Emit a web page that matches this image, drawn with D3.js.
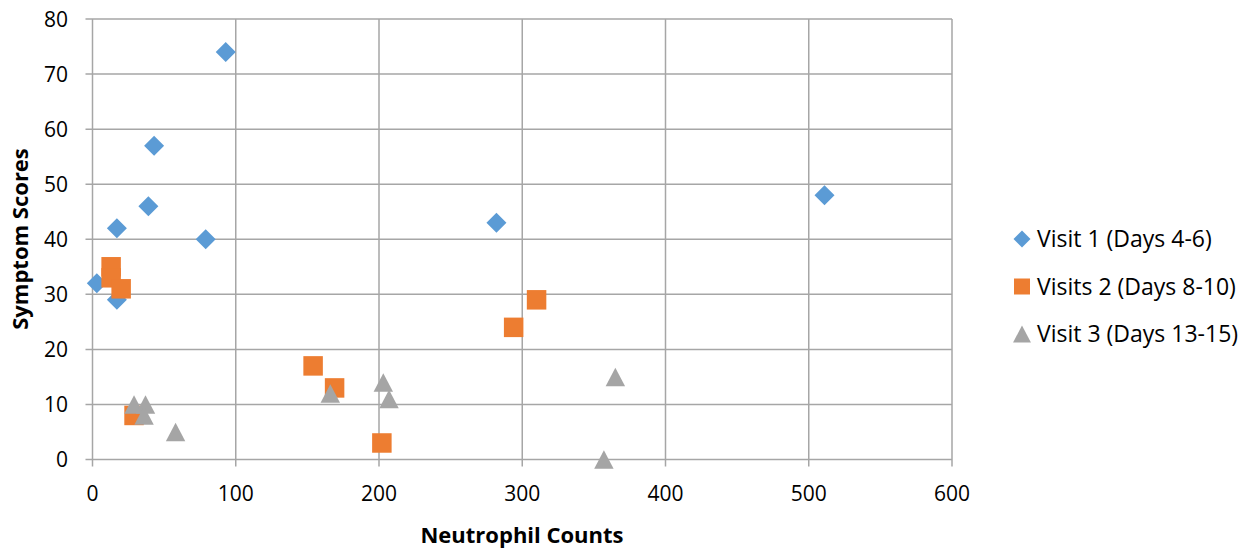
<meta charset="utf-8">
<script src="https://d3js.org/d3.v7.min.js"></script>
<style>
body { margin:0; background:white; overflow:hidden; }
text { font-family: "Open Sans", Lato, sans-serif; fill:#000; }
</style>
<body>
<div id="chart"></div>
<script>
// neutrophil count, symptom score
var visit1 = [[3,32],[17,29],[17,42],[39,46],[43,57],[79,40],[93,74],[282,43],[511,48]];
var visit2 = [[13,35],[13,33],[20,31],[29,8],[154,17],[169,13],[202,3],[294,24],[310,29]];
var visit3 = [[29,10],[37,10],[36,8],[58,5],[166,12],[203,14],[207,11],[365,15],[357,0]];
var seriesNames = ["Visit 1 (Days 4-6)", "Visits 2 (Days 8-10)", "Visit 3 (Days 13-15)"];
var colors = ["#5B9BD5", "#ED7D31", "#A5A5A5"];
var xTicks = [0,100,200,300,400,500,600];
var yTicks = [0,10,20,30,40,50,60,70,80];

var width = 1255, height = 548;
var svg = d3.select('#chart').append('svg').attr('width', width).attr('height', height);

var x = d3.scaleLinear().domain([0,600]).range([92.5, 952]);
var y = d3.scaleLinear().domain([0,80]).range([459.5, 19]);

var grid = '#a6a6a6';

// gridlines
svg.selectAll('.hg').data(yTicks).enter().append('line')
  .attr('x1', x(0) - 7).attr('x2', x(600))
  .attr('y1', function(d){return y(d)}).attr('y2', function(d){return y(d)})
  .style('stroke', grid).style('stroke-width', 1.5);
svg.selectAll('.vg').data(xTicks).enter().append('line')
  .attr('y1', y(80)).attr('y2', y(0) + 7)
  .attr('x1', function(d){return x(d)}).attr('x2', function(d){return x(d)})
  .style('stroke', grid).style('stroke-width', 1.5);

// tick labels
svg.selectAll('.yl').data(yTicks).enter().append('text')
  .attr('x', 68).attr('y', function(d){return y(d)}).attr('dy', '0.36em')
  .attr('text-anchor', 'end').style('font-size', '21px')
  .text(function(d){return d});
svg.selectAll('.xl').data(xTicks).enter().append('text')
  .attr('x', function(d){return x(d)}).attr('y', 501)
  .attr('text-anchor', 'middle').style('font-size', '21px')
  .text(function(d){return d});

// axis titles
svg.append('text').attr('x', 522).attr('y', 543).attr('text-anchor', 'middle')
  .style('font-size', '22px').style('font-weight', 'bold').text('Neutrophil Counts');
svg.append('text').attr('transform', 'translate(28,239) rotate(-90)').attr('text-anchor', 'middle')
  .style('font-size', '22px').style('font-weight', 'bold').text('Symptom Scores');

// diamond = square turned 45deg; triangle centred on its box
function marker(kind, s) {
  var h = s / 2;
  if (kind == 0) return 'M0,' + (-h) + 'L' + h + ',0L0,' + h + 'L' + (-h) + ',0Z';
  if (kind == 1) return 'M' + (-h) + ',' + (-h) + 'H' + h + 'V' + h + 'H' + (-h) + 'Z';
  return 'M0,' + (-h) + 'L' + (h * 1.05) + ',' + h + 'L' + (-h * 1.05) + ',' + h + 'Z';
}
var sizes = [20, 19.5, 18.5];
var series = [visit1, visit2, visit3];

series.forEach(function(data, i) {
  svg.append('g').selectAll('path').data(data).enter().append('path')
    .attr('d', marker(i, sizes[i]))
    .attr('transform', function(d){return 'translate(' + x(d[0]) + ',' + y(d[1]) + ')'})
    .style('fill', colors[i]);
});

// legend
var legend = svg.append('g').selectAll('g').data(seriesNames).enter().append('g')
  .attr('transform', function(d, i){return 'translate(1022,' + (239 + i * 47.5) + ')'});
legend.append('path')
  .attr('d', function(d, i){return marker(i, i == 1 ? 16 : 17)})
  .style('fill', function(d, i){return colors[i]});
legend.append('text').attr('x', 15).attr('dy', '0.36em').style('font-size', '23px')
  .text(function(d){return d});
</script>
</body>
